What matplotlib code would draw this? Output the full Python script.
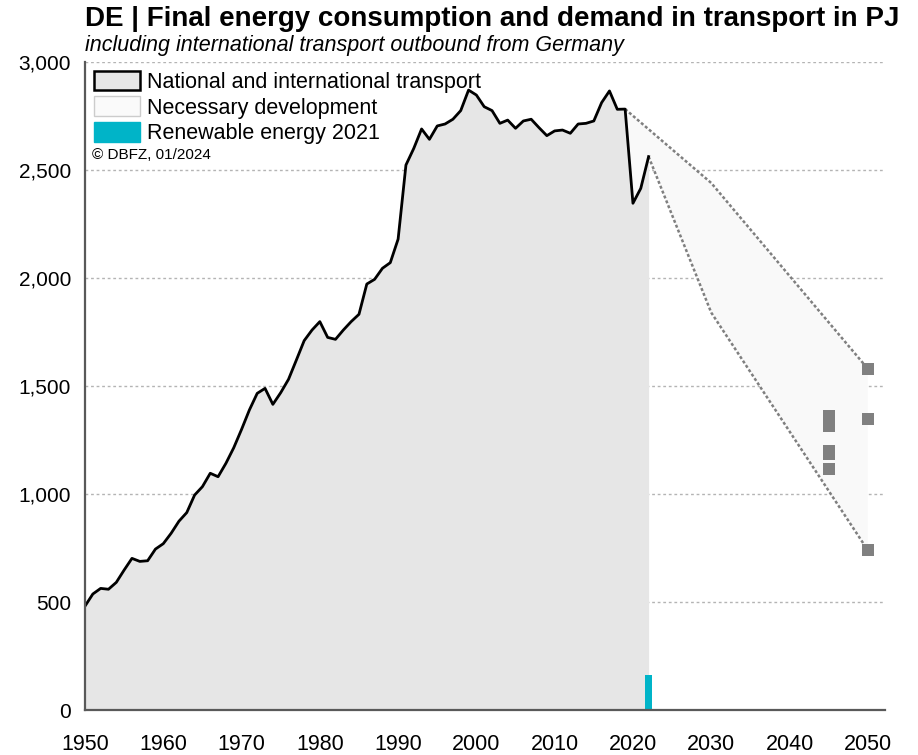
import matplotlib
matplotlib.use("Agg")
import matplotlib.pyplot as plt
from matplotlib.patches import Patch
import numpy as np

plt.rcParams['font.family'] = ['Liberation Sans', 'DejaVu Sans']

# historic final energy consumption in transport, PJ
years = list(range(1950, 2023))
consumption = [481, 537, 563, 559, 591, 648, 702, 688, 691, 745,
               770, 818, 874, 914, 995, 1034, 1096, 1080, 1142, 1214,
               1299, 1389, 1466, 1489, 1415, 1469, 1531, 1620, 1710, 1759,
               1798, 1725, 1716, 1759, 1798, 1832, 1972, 1994, 2045, 2071,
               2180, 2523, 2600, 2690, 2642, 2704, 2713, 2735, 2775, 2870,
               2847, 2793, 2775, 2716, 2731, 2693, 2727, 2735, 2696, 2659,
               2681, 2685, 2670, 2713, 2716, 2727, 2812, 2866, 2781, 2782,
               2346, 2415, 2562]

# necessary development corridor
upper_years = [2019, 2030, 2050]
upper_vals = [2782, 2440, 1580]
lower_years = [2022, 2030, 2050]
lower_vals = [2562, 1840, 740]

# scenario markers
scen_years = [2045, 2045, 2045, 2045, 2045, 2050, 2050, 2050]
scen_vals = [1360, 1315, 1200, 1185, 1115, 1580, 1345, 740]

renew_year = 2022
renew_val = 162

fig = plt.figure(figsize=(9.18, 7.55), dpi=100)
ax = fig.add_axes([85/918, 1-710/755, 800/918, 648/755])

# corridor polygon
i19 = years.index(2019)
px = upper_years + lower_years[::-1] + years[i19:][::-1]
py = upper_vals + lower_vals[::-1] + consumption[i19:][::-1]
ax.fill(px, py, color='#f9f9f9', lw=0, zorder=1)

ax.fill_between(years, consumption, 0, color='#e6e6e6', lw=0, zorder=2)
ax.plot(years, consumption, color='black', lw=2, zorder=4)

ax.plot(upper_years, upper_vals, color='#7f7f7f', lw=1.8, ls=(0, (1.2, 0.9)), zorder=3)
ax.plot(lower_years, lower_vals, color='#7f7f7f', lw=1.8, ls=(0, (1.2, 0.9)), zorder=3)

ax.scatter(scen_years, scen_vals, marker='s', s=75, color='#808080', lw=0, zorder=5)

ax.bar([renew_year], [renew_val], width=0.85, color='#00b4c8', zorder=5)

ax.set_xlim(1950, 2052.2)
ax.set_ylim(0, 3000)
ax.set_yticks(range(0, 3001, 500))
ax.set_yticklabels([f"{v:,}" for v in range(0, 3001, 500)])
ax.set_xticks(range(1950, 2051, 10))
ax.tick_params(length=0, labelsize=15, pad=10)
ax.tick_params(axis='x', labelsize=15.5, pad=17)
for v in range(500, 3001, 500):
    ax.axhline(v, color='#b4b4b4', lw=1, ls=(0, (2, 2)), zorder=0)

for s in ['top', 'right']:
    ax.spines[s].set_visible(False)
for s in ['left', 'bottom']:
    ax.spines[s].set_color('#595959')
    ax.spines[s].set_linewidth(1.6)
    ax.spines[s].set_zorder(6)

handles = [Patch(facecolor='#e6e6e6', edgecolor='black', lw=1.8),
           Patch(facecolor='#fafafa', edgecolor='#cccccc', lw=1),
           Patch(facecolor='#00b4c8', edgecolor='#00b4c8')]
labels = ['National and international transport', 'Necessary development',
          'Renewable energy 2021']
ax.legend(handles, labels, loc='upper left', bbox_to_anchor=(0.0, 1.0),
          frameon=False, fontsize=15.5, handlelength=2.15, handleheight=1.0,
          handletextpad=0.35, labelspacing=0.18, borderaxespad=0.1,
          borderpad=0.3)
ax.text(0.009, 0.857, '\u00a9 DBFZ, 01/2024', transform=ax.transAxes,
        fontsize=11, va='center', ha='left')

fig.text(85/918, 1-19/755, 'DE | Final energy consumption and demand in transport in PJ',
         fontsize=20, fontweight='bold', va='center', ha='left')
fig.text(85/918, 1-45/755, 'including international transport outbound from Germany',
         fontsize=15.5, style='italic', va='center', ha='left')

fig.savefig('out.png', dpi=100)
